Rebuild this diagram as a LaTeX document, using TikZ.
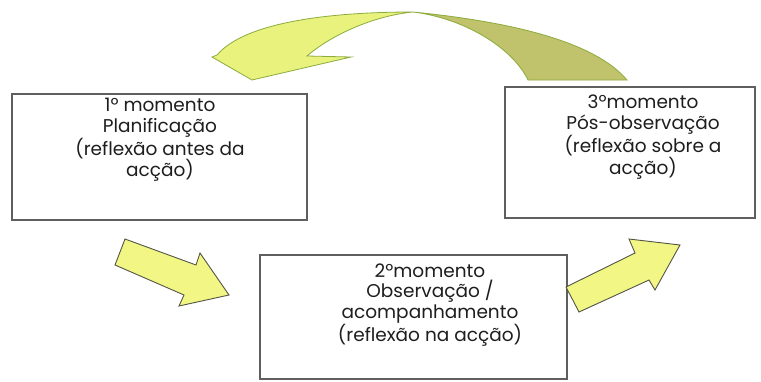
\documentclass[tikz,border=0pt]{standalone}
\usepackage{fontspec}
\setmainfont{Poppins}
\definecolor{lightarrow}{RGB}{232,242,124}
\definecolor{darkarrow}{RGB}{192,194,108}
\definecolor{arrowline}{RGB}{140,172,62}
\definecolor{yarrow}{RGB}{241,246,132}
\definecolor{yline}{RGB}{85,85,70}
\definecolor{boxline}{RGB}{95,95,95}
\definecolor{textcol}{RGB}{30,30,30}
\begin{document}
\begin{tikzpicture}[x=1pt,y=-1pt,
  box/.style={draw=boxline,line width=1.2pt,fill=white,inner sep=0pt},
  lbl/.style={align=center,text=textcol,font=\fontsize{18.5}{20.5}\selectfont,inner sep=0pt},
  straightarrow/.style={fill=yarrow,draw=yline,line width=0.9pt,line join=miter},
  curvelight/.style={fill=lightarrow,draw=arrowline,line width=0.8pt},
  curvedark/.style={fill=darkarrow,draw=arrowline,line width=0.8pt}]
\useasboundingbox (0,0) rectangle (761,381);
\fill[white] (0,0) rectangle (761,381);
% curved arrow, dark underside on the right
\draw[curvedark] (413,12) .. controls (513,22) and (595,42) .. (627,80)
  -- (528,80) .. controls (512,47) and (463,18) .. (413,12) -- cycle;
% curved arrow, light part with head on the left
\draw[curvelight] (413,12) .. controls (330,12) and (245,22) .. (217,55)
  -- (212,57) -- (252,80) -- (351,57) -- (307,56)
  .. controls (330,36) and (372,16) .. (413,12) -- cycle;
% boxes
\node[box,minimum width=295pt,minimum height=126pt] (b1) at (159.5,157) {};
\node[box,minimum width=307pt,minimum height=124pt] (b2) at (413.5,317) {};
\node[box,minimum width=250pt,minimum height=131pt] (b3) at (630,152.5) {};
\node[lbl] (t1) at (160,140) {1º momento\\Planificação\\(reflexão antes da\\acção)};
\node[lbl] (t2) at (430,305) {2ºmomento\\Observação /\\acompanhamento\\(reflexão na acção)};
\node[lbl] (t3) at (643,137) {3ºmomento\\Pós-observação\\(reflexão sobre a\\acção)};
% straight arrows
\draw[straightarrow] (125,239) -- (196,265) -- (200,253) -- (229,295) -- (179,306) -- (184,295) -- (115,265) -- cycle;
\draw[straightarrow] (566,287) -- (635,253) -- (629,239) -- (680,245) -- (655,290) -- (649,280) -- (579,312) -- cycle;
\end{tikzpicture}
\end{document}
